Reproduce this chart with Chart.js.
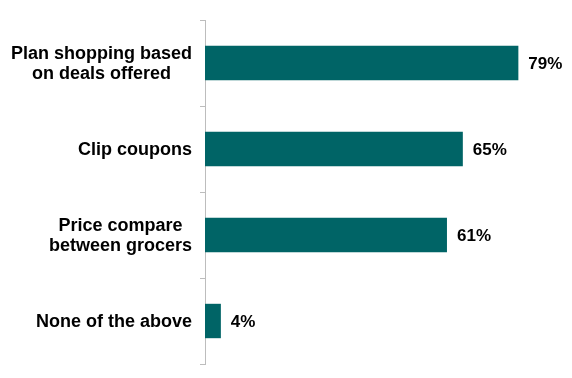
<!DOCTYPE html>
<html>
<head>
<meta charset="utf-8">
<script src="https://cdn.jsdelivr.net/npm/chart.js@4.4.0/dist/chart.umd.min.js"></script>
<style>
  html, body { margin: 0; padding: 0; background: #fff; }
  #wrap { width: 572px; height: 378px; position: relative; }
</style>
</head>
<body>
<div id="wrap"><canvas id="c"></canvas></div>
<script>
// data
const categories = [
  ['Plan shopping based', 'on deals offered'],
  ['Clip coupons'],
  ['Price compare', 'between grocers'],
  ['None of the above']
];
const values = [79, 65, 61, 4];

const TEAL = '#006466';
const CAT_FONT = 'bold 18px "Liberation Sans", Arial, sans-serif';
const VAL_FONT = 'bold 17px "Liberation Sans", Arial, sans-serif';

// draws the centred multi-line category labels and the value labels
const labelPlugin = {
  id: 'labels',
  afterDatasetsDraw(chart) {
    const ctx = chart.ctx;
    const y = chart.scales.y;
    const meta = chart.getDatasetMeta(0);
    ctx.save();
    ctx.fillStyle = '#000';
    ctx.textBaseline = 'middle';

    ctx.font = CAT_FONT;
    categories.forEach((lines, i) => {
      const cy = y.getPixelForTick(i);
      let w = 0;
      lines.forEach(l => { w = Math.max(w, ctx.measureText(l).width); });
      const right = chart.chartArea.left - 13;
      const cx = right - w / 2;
      const lh = 20;
      ctx.textAlign = 'center';
      lines.forEach((l, j) => {
        ctx.fillText(l, cx, cy + 1 + (j - (lines.length - 1) / 2) * lh);
      });
    });

    ctx.font = VAL_FONT;
    meta.data.forEach((bar, i) => {
      ctx.textAlign = 'left';
      ctx.fillText(values[i] + '%', bar.x + 10, bar.y + 1);
    });
    ctx.restore();
  }
};

new Chart(document.getElementById('c'), {
  type: 'bar',
  data: {
    labels: categories,
    datasets: [{
      data: values,
      backgroundColor: TEAL,
      borderWidth: 0,
      barPercentage: 0.8,
      categoryPercentage: 0.5
    }]
  },
  options: {
    indexAxis: 'y',
    responsive: true,
    maintainAspectRatio: false,
    animation: false,
    layout: { padding: { top: 20, bottom: 14, right: 10 } },
    plugins: { legend: { display: false }, tooltip: { enabled: false } },
    scales: {
      x: { display: false, min: 0, max: 90 },
      y: {
        afterFit(scale) { scale.width = 205; },
        border: { display: true, color: '#bdbdbd', width: 1 },
        grid: { offset: true, drawOnChartArea: false, drawTicks: true, tickLength: 5, color: '#bdbdbd' },
        ticks: { display: false }
      }
    }
  },
  plugins: [labelPlugin]
});
</script>
</body>
</html>
